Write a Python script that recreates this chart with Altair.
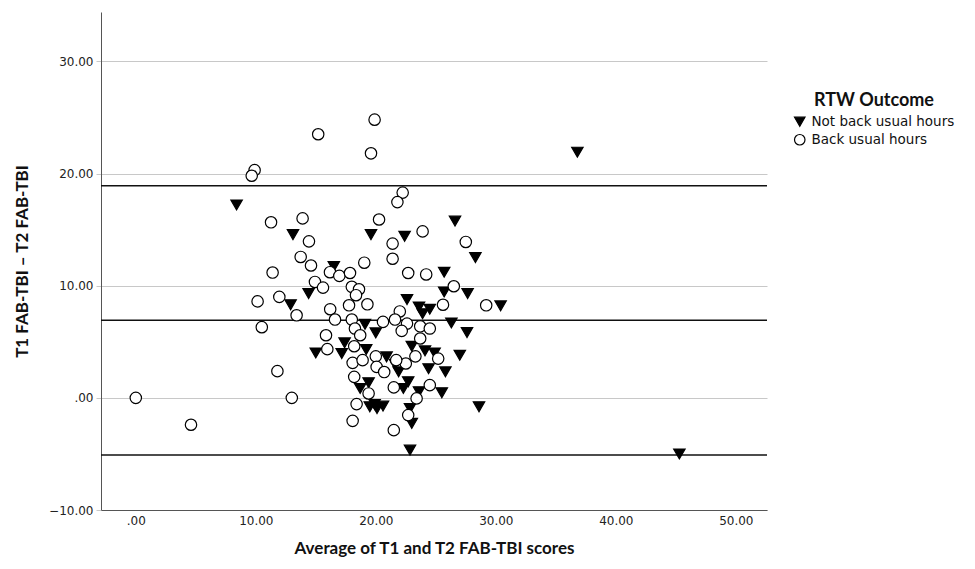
import altair as alt
import pandas as pd

# ---- data ----
group_labels = ["Not back usual hours", "Back usual hours"]

not_back_x = [8.4, 13.1, 19.6, 16.5, 14.4, 12.9, 19.1, 20.0, 17.4, 17.16,
              15.0, 19.2, 20.9, 19.4, 18.7, 19.5, 20.1, 20.6, 19.9, 22.4,
              26.6, 28.3, 25.7, 25.7, 27.65, 22.6, 23.6, 24.5, 23.9, 30.4,
              26.3, 27.6, 23.0, 24.1, 24.9, 27.0, 21.9, 21.6, 24.4, 25.8,
              22.7, 22.3, 25.5, 23.6, 28.6, 22.85, 23.0, 22.85, 36.8, 45.3]
not_back_y = [17.2, 14.55, 14.55, 11.7, 9.3, 8.3, 6.56, 5.79, 4.9, 3.95,
              4.0, 4.3, 3.65, 1.34, 0.84, -0.8, -0.95, -0.74, -0.6, 14.4,
              15.76, 12.5, 11.2, 9.44, 9.3, 8.76, 8.1, 7.9, 7.5, 8.2,
              6.68, 5.82, 4.6, 4.19, 4.0, 3.8, 2.32, 3.0, 2.6, 2.32,
              1.43, 0.84, 0.45, 0.54, -0.8, -0.95, -2.28, -4.66, 21.9, -5.0]

back_x = [0.0, 4.6, 9.9, 9.66, 11.27, 13.9, 15.2, 19.9, 19.6, 20.27,
          14.43, 13.74, 14.6, 11.4, 19.04, 21.4, 21.4, 16.18, 16.96, 17.85,
          14.93, 15.6, 18.0, 18.6, 18.35, 10.15, 11.96, 16.2, 17.77, 19.3,
          13.4, 10.5, 16.6, 18.0, 18.26, 18.7, 20.6, 15.85, 15.96, 18.2,
          18.07, 18.9, 20.0, 20.07, 20.7, 18.2, 19.4, 18.4, 18.07, 21.5,
          11.8, 13.0, 21.5, 22.24, 21.8, 23.9, 27.5, 22.7, 24.2, 26.5,
          25.6, 29.2, 22.0, 21.6, 22.6, 22.16, 23.7, 24.5, 23.7, 23.3,
          22.5, 21.7, 25.2, 24.5, 23.4, 22.7]
back_y = [0.0, -2.4, 20.3, 19.8, 15.65, 16.0, 23.5, 24.8, 21.8, 15.9,
          13.95, 12.56, 11.8, 11.17, 12.05, 13.75, 12.4, 11.2, 10.87, 11.13,
          10.33, 9.83, 9.9, 9.68, 9.15, 8.6, 9.0, 7.9, 8.25, 8.34,
          7.36, 6.3, 6.98, 6.98, 6.18, 5.58, 6.77, 5.58, 4.34, 4.6,
          3.12, 3.36, 3.7, 2.76, 2.3, 1.87, 0.39, -0.56, -2.05, -2.88,
          2.38, 0.0, 0.93, 18.3, 17.45, 14.84, 13.9, 11.13, 11.0, 9.95,
          8.3, 8.25, 7.7, 6.98, 6.62, 5.97, 6.38, 6.18, 5.29, 3.7,
          3.06, 3.36, 3.5, 1.13, -0.05, -1.54]

ref_lines = [18.9, 6.92, -5.1]     # upper LoA, mean difference, lower LoA
x_ticks = [0, 10, 20, 30, 40, 50]
y_ticks = [-10, 0, 10, 20, 30]

# ---- tables ----
df = pd.DataFrame({
    "avg": not_back_x + back_x,
    "diff": not_back_y + back_y,
    "RTW Outcome": [group_labels[0]] * len(not_back_x) + [group_labels[1]] * len(back_x),
})
lines = pd.DataFrame({"v": ref_lines})

xscale = alt.Scale(domain=[-2.9, 52.6], nice=False, zero=False)
yscale = alt.Scale(domain=[-10, 34.4], nice=False, zero=False)
label_expr = "datum.value == 0 ? '.00' : format(datum.value, '.2f')"

TICK_FONT = "DejaVu Sans"
TITLE_FONT = "Lato"

x_axis = alt.Axis(values=x_ticks, labelExpr=label_expr, grid=False,
                  title="Average of T1 and T2 FAB-TBI scores",
                  titleFont=TITLE_FONT, titleFontSize=17, titleFontWeight="bold",
                  titleColor="#111", titlePadding=14,
                  labelFont=TICK_FONT, labelFontSize=12, labelColor="#222",
                  labelPadding=5, tickSize=0, domainColor="#555")
y_axis = alt.Axis(values=y_ticks, labelExpr=label_expr, grid=True,
                  gridColor="#c8c8c8", gridWidth=1,
                  title="T1 FAB-TBI \u2013 T2 FAB-TBI",
                  titleFont=TITLE_FONT, titleFontSize=17, titleFontWeight="bold",
                  titleColor="#111", titlePadding=17,
                  labelFont=TICK_FONT, labelFontSize=12, labelColor="#222",
                  labelPadding=3, tickSize=5, tickColor="#c8c8c8", domainColor="#555")

rules = alt.Chart(lines).mark_rule(color="#111", strokeWidth=1.5).encode(
    y=alt.Y("v:Q", scale=yscale, axis=y_axis)
)

legend = alt.Legend(title="RTW Outcome", orient="none", legendX=692, legendY=80,
                    titleFont=TITLE_FONT, titleFontSize=18, titleFontWeight="bold",
                    titleColor="#111", titleAnchor="middle", titlePadding=5,
                    labelFont="DejaVu Sans", labelFontSize=13.5, labelColor="#111",
                    labelOffset=5,
                    symbolSize=110, symbolStrokeWidth=1.2, rowPadding=3,
                    labelLimit=300)

points = alt.Chart(df).mark_point(filled=True, stroke="black", strokeWidth=1.2,
                                  size=130, opacity=1).encode(
    x=alt.X("avg:Q", scale=xscale, axis=x_axis),
    y=alt.Y("diff:Q", scale=yscale, axis=y_axis),
    shape=alt.Shape("RTW Outcome:N",
                    scale=alt.Scale(domain=group_labels, range=["triangle-down", "circle"]),
                    legend=legend),
    fill=alt.Fill("RTW Outcome:N",
                  scale=alt.Scale(domain=group_labels, range=["black", "white"]),
                  legend=legend),
)

chart = alt.layer(rules, points).properties(
    width=666, height=498,
    background="white",
    autosize=alt.AutoSizeParams(type="none"),
    padding={"left": 93, "top": 4, "right": 200, "bottom": 51},
).configure_view(strokeWidth=0)

chart.save("out.html", embed_options={"renderer": "svg", "actions": False})
